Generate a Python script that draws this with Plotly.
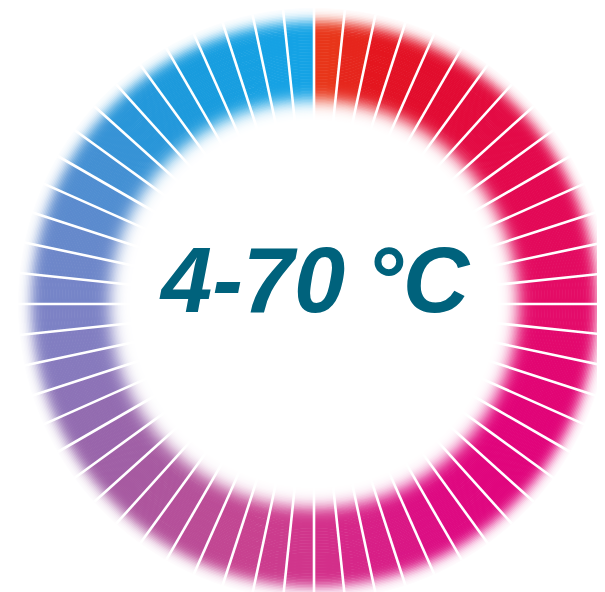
import math
import plotly.graph_objects as go

# ---- data ----
temp_range = "4-70"
temp_unit = "°C"
n_segments = 60
segment_index = list(range(n_segments))
# colour stops along the ring (clockwise angle from top in degrees, colour)
stop_angles = [3, 15, 30, 45, 60, 75, 90, 105, 120, 135, 150, 165, 180,
               195, 210, 225, 240, 255, 270, 285, 300, 315, 330, 345, 357]
stop_colors = ["#e8361a", "#e4161f", "#e20b30", "#e30b44", "#e3084f", "#e30a5c",
               "#e40d69", "#e20672", "#e1037a", "#e0067e", "#dd0b83", "#d81f87",
               "#d2338b", "#c84290", "#b84e98", "#a75aa1", "#9668ad", "#877abd",
               "#7a84c7", "#6689cb", "#4b8fd2", "#2996d9", "#1a9bdd", "#16a0e2", "#15a3e5"]

# ---- helpers ----
def h2rgb(h):
    h = h.lstrip("#")
    return tuple(int(h[i:i + 2], 16) for i in (0, 2, 4))

def interp_color(a):
    if a <= stop_angles[0]:
        return h2rgb(stop_colors[0])
    if a >= stop_angles[-1]:
        return h2rgb(stop_colors[-1])
    for k in range(len(stop_angles) - 1):
        a0, a1 = stop_angles[k], stop_angles[k + 1]
        if a0 <= a <= a1:
            t = (a - a0) / (a1 - a0)
            c0, c1 = h2rgb(stop_colors[k]), h2rgb(stop_colors[k + 1])
            return tuple(c0[j] + (c1[j] - c0[j]) * t for j in range(3))

def mix_white(c, alpha):
    return "rgb(%d,%d,%d)" % tuple(round(255 + (v - 255) * alpha) for v in c)

step = 360 / n_segments
seg_theta = [(i + 0.5) * step for i in segment_index]
seg_rgb = [interp_color(t) for t in seg_theta]

# soft edges of the ring
inner_edge, inner_sigma = 204.0, 7.5
outer_edge, outer_sigma = 283.0, 6.0

def alpha_at(r):
    a_in = 0.5 * (1 + math.erf((r - inner_edge) / (inner_sigma * math.sqrt(2))))
    a_out = 0.5 * (1 - math.erf((r - outer_edge) / (outer_sigma * math.sqrt(2))))
    return a_in * a_out

fig = go.Figure()
dr = 1.5
r0 = 175.0
while r0 < 297:
    a = alpha_at(r0 + dr / 2)
    if a > 0.004:
        fig.add_trace(go.Barpolar(
            r=[dr + 0.6] * n_segments,
            base=[r0] * n_segments,
            theta=seg_theta,
            width=[step] * n_segments,
            marker=dict(color=[mix_white(c, a) for c in seg_rgb], line=dict(width=0)),
            hoverinfo="skip",
            showlegend=False,
        ))
    r0 += dr

# white gaps between segments
gap_r, gap_t = [], []
for i in segment_index:
    gap_r += [170, 296, None]
    gap_t += [i * step, i * step, None]
fig.add_trace(go.Scatterpolar(
    r=gap_r, theta=gap_t, mode="lines",
    line=dict(color="white", width=2.6),
    hoverinfo="skip", showlegend=False,
))

fig.add_annotation(
    text=temp_range, xref="paper", yref="paper",
    x=244 / 605, y=1 - 272 / 592, xanchor="center", yanchor="middle",
    showarrow=False,
    font=dict(family="Liberation Sans", size=92, color="#00627c",
              weight="bold", style="italic"),
)
fig.add_annotation(
    text=temp_unit, xref="paper", yref="paper",
    x=410 / 605, y=1 - 272 / 592, xanchor="center", yanchor="middle",
    showarrow=False,
    font=dict(family="Liberation Sans", size=92, color="#00627c",
              weight="bold", style="italic"),
)

fig.update_layout(
    width=605, height=592,
    margin=dict(l=0, r=0, t=0, b=0),
    paper_bgcolor="white",
    showlegend=False,
    polar=dict(
        domain=dict(x=[0.0116, 1], y=[0, 1]),
        bgcolor="white",
        radialaxis=dict(range=[0, 296], visible=False, showgrid=False),
        angularaxis=dict(visible=False, rotation=90, direction="clockwise", showgrid=False),
        barmode="overlay",
    ),
)

fig.write_html("out.html")
